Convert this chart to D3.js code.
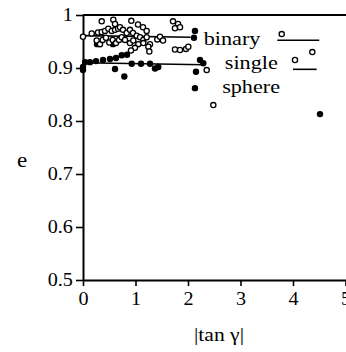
<!DOCTYPE html>
<html>
<head>
<meta charset="utf-8">
<script src="https://cdn.jsdelivr.net/npm/d3@7"></script>
<style>
  html, body { margin: 0; padding: 0; background: #fff; }
  svg { display: block; }
  svg text { font-family: "Liberation Serif", "Times New Roman", Times, Tinos, "DejaVu Serif", "Noto Serif", serif; }
</style>
</head>
<body>
<svg id="chart" width="346" height="352"></svg>
<script>
// binary (open circles): [|tan γ|, e]
const binaryPts = [
  [0.00, 0.959], [0.166, 0.965], [0.356, 0.988], [0.577, 0.991], [0.610, 0.983],
  [0.286, 0.967], [0.356, 0.968], [0.419, 0.970], [0.482, 0.974], [0.547, 0.970],
  [0.610, 0.972], [0.667, 0.974], [0.261, 0.952], [0.324, 0.945], [0.375, 0.953],
  [0.438, 0.957], [0.501, 0.948], [0.566, 0.953], [0.629, 0.947], [0.686, 0.953],
  [0.92, 0.989], [1.048, 0.982], [1.143, 0.977], [1.213, 0.970], [0.705, 0.977],
  [0.762, 0.972], [0.832, 0.966], [0.895, 0.972], [0.952, 0.966], [1.023, 0.961],
  [1.086, 0.958], [1.149, 0.953], [1.213, 0.958], [0.737, 0.958], [0.800, 0.953],
  [0.895, 0.947], [0.958, 0.952], [1.053, 0.945], [1.149, 0.947], [1.276, 0.945],
  [0.990, 0.938], [1.244, 0.940], [0.914, 0.933], [1.263, 0.931], [1.415, 0.954],
  [1.714, 0.988], [1.810, 0.983], [1.752, 0.975], [1.848, 0.977], [1.467, 0.959],
  [1.524, 0.952], [1.752, 0.935], [1.848, 0.934], [1.962, 0.936], [2.006, 0.940],
  [2.356, 0.896], [2.482, 0.830], [3.785, 0.964], [4.368, 0.930], [4.038, 0.915]
];
// single (filled circles)
const singlePts = [
  [0.00, 0.896], [0.00, 0.902], [0.04, 0.911], [0.133, 0.911], [0.248, 0.913],
  [0.381, 0.915], [0.514, 0.917], [0.610, 0.898], [0.629, 0.919], [0.737, 0.924],
  [0.787, 0.884], [0.838, 0.925], [0.928, 0.908], [1.105, 0.908], [1.276, 0.908],
  [1.371, 0.899], [1.434, 0.902], [2.133, 0.970], [2.114, 0.957], [2.291, 0.909],
  [2.229, 0.915], [2.152, 0.893], [2.133, 0.862], [4.514, 0.813],
  [0.267, 0.945], [0.571, 0.945]
];
// fitted lines
const binaryFit = [[0, 0.961], [2.05, 0.958]];
const singleFit = [[0, 0.910], [2.3, 0.906]];
// legend strokes next to the labels
const legendLines = [
  { x: [3.7, 4.5], e: 0.9525 },
  { x: [4.0, 4.45], e: 0.8975 }
];
const legendLabels = [
  { text: "binary", x: 2.3, e: 0.943 },
  { text: "single", x: 2.7, e: 0.898 },
  { text: "sphere", x: 2.65, e: 0.853 }
];
const xTicks = [0, 1, 2, 3, 4, 5];
const yTicks = [0.5, 0.6, 0.7, 0.8, 0.9, 1];

const svg = d3.select("#chart");
const sx = 1.12;

const x = d3.scaleLinear().domain([0, 5]).range([83, 345.5]);
const y = d3.scaleLinear().domain([0.5, 1]).range([280, 15]);

// top frame line
svg.append("line")
  .attr("x1", x(0)).attr("x2", 346)
  .attr("y1", y(1)).attr("y2", y(1))
  .attr("stroke", "#000").attr("stroke-width", 2);

// Y axis
const gy = svg.append("g")
  .attr("transform", `translate(${x(0)},0)`)
  .call(d3.axisLeft(y).tickValues(yTicks).tickSize(7).tickSizeOuter(0).tickPadding(2)
    .tickFormat(d => d === 1 ? "1" : d3.format(".1f")(d)));

// X axis
const gx = svg.append("g")
  .attr("transform", `translate(0,${y(0.5)})`)
  .call(d3.axisBottom(x).tickValues(xTicks).tickSize(6).tickSizeOuter(0).tickPadding(6)
    .tickFormat(d3.format("d")));

[gx, gy].forEach(g => {
  g.attr("font-family", null);
  g.select(".domain").attr("stroke-width", 2);
  g.selectAll(".tick line").attr("stroke-width", 1.6);
  g.selectAll(".tick text")
    .attr("font-size", 18).attr("fill", "#000")
    .attr("transform", `scale(${sx},1)`);
});

// fit lines
const line = d3.line().x(d => x(d[0])).y(d => y(d[1]));
[binaryFit, singleFit].forEach(f => {
  svg.append("path").attr("d", line(f))
    .attr("fill", "none").attr("stroke", "#000").attr("stroke-width", 1.6);
});

legendLines.forEach(l => {
  svg.append("line")
    .attr("x1", x(l.x[0])).attr("x2", x(l.x[1]))
    .attr("y1", y(l.e)).attr("y2", y(l.e))
    .attr("stroke", "#000").attr("stroke-width", 1.6);
});

// points
svg.append("g").selectAll("circle")
  .data(singlePts).enter().append("circle")
  .attr("cx", d => x(d[0])).attr("cy", d => y(d[1]))
  .attr("r", 3.2).attr("fill", "#000");

svg.append("g").selectAll("circle")
  .data(binaryPts).enter().append("circle")
  .attr("cx", d => x(d[0])).attr("cy", d => y(d[1]))
  .attr("r", 2.6).attr("fill", "#fff").attr("stroke", "#000").attr("stroke-width", 1.3);

// labels
function label(txt, px, py, size, anchor, s) {
  svg.append("text")
    .attr("transform", `translate(${px},${py}) scale(${s},1)`)
    .attr("text-anchor", anchor)
    .attr("font-size", size)
    .attr("fill", "#000")
    .text(txt);
}
legendLabels.forEach(l => label(l.text, x(l.x), y(l.e), 18.5, "start", 1.2));
label("e", 22, 167, 21, "middle", 1.1);
label("|tan \u03b3|", 219, 341, 18, "middle", 1.2);
</script>
</body>
</html>
